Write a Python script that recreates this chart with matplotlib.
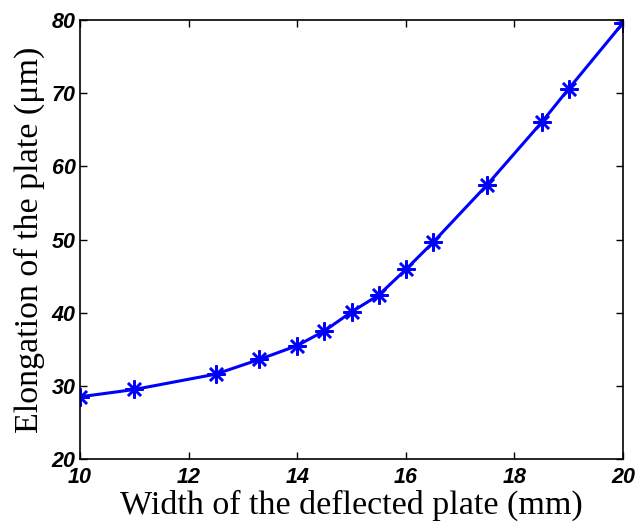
import numpy as np
import matplotlib.pyplot as plt

width = [10, 11, 12.5, 13.3, 14, 14.5, 15, 15.5, 16, 16.5, 17.5, 18.5, 19, 20]
elong = [28.5, 29.5, 31.6, 33.6, 35.5, 37.5, 40.1, 42.4, 45.9, 49.6, 57.5, 66.0, 70.6, 79.6]
xticks = [10, 12, 14, 16, 18, 20]
yticks = [20, 30, 40, 50, 60, 70, 80]

fig = plt.figure(figsize=(6.38, 5.24), dpi=100)
ax = fig.add_axes([80/638, 1 - 459/524, (623-80)/638, (459-20)/524])

ax.plot(width, elong, color=(0, 0, 1), linewidth=2.2,
        marker=(8, 2, 0), markersize=13, markeredgewidth=1.8)

ax.set_xlim(10, 20)
ax.set_ylim(20, 80)
ax.set_xticks(xticks)
ax.set_yticks(yticks)
tick_font = dict(family='Liberation Sans', weight='bold', style='italic', size=15.5)
ax.set_xticklabels([str(t) for t in xticks], fontdict=tick_font)
ax.set_yticklabels([str(t) for t in yticks], fontdict=tick_font)
ax.tick_params(direction='in', length=5, width=1, top=True, right=True)
ax.tick_params(axis='x', pad=6)
ax.tick_params(axis='y', pad=3)
for s in ax.spines.values():
    s.set_linewidth(1.2)

lab_font = dict(family='Liberation Serif', size=24.5)
ax.set_xlabel('Width of the deflected plate (mm)', fontdict=lab_font, labelpad=1)
ax.set_ylabel('Elongation of the plate (\u03bcm)', fontdict=lab_font, labelpad=5)

fig.savefig('out.png', dpi=100)
